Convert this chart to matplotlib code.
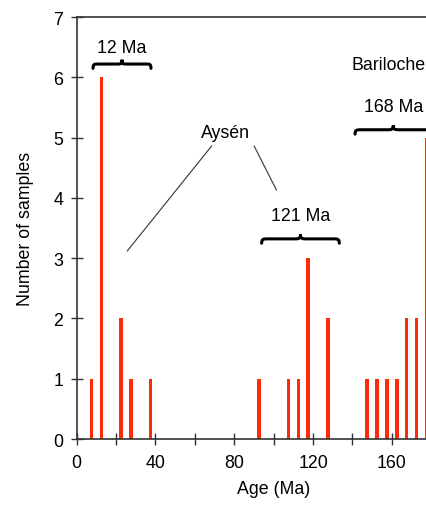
import matplotlib.pyplot as plt
from matplotlib.path import Path
from matplotlib.patches import PathPatch

plt.rcParams['font.family'] = ['Liberation Sans', 'DejaVu Sans']

# %% Data: histogram of ages, 5 Ma bins (bin centres)
ages = [7.5, 12.5, 22.5, 27.5, 37.5, 92.5, 107.5, 112.5, 117.5, 127.5,
        147.5, 152.5, 157.5, 162.5, 167.5, 172.5, 177.5]
counts = [1, 6, 2, 1, 1, 1, 1, 1, 3, 2,
          1, 1, 1, 1, 2, 2, 5]

x_ticks = [0, 20, 40, 60, 80, 100, 120, 140, 160, 180]
x_labels = ['0', '', '40', '', '80', '', '120', '', '160', '']
y_ticks = [0, 1, 2, 3, 4, 5, 6, 7]

FS = 12.8


def brace(ax, x0, x1, y, h):
    # horizontal curly brace, ends curl down, peak in the middle
    xc = (x0 + x1) / 2
    w = (x1 - x0)
    q = w * 0.08
    verts = [(x0, y - h * 0.6),
             (x0, y), (x0 + q * 0.3, y), (x0 + q, y),
             (xc - q, y),
             (xc - q * 0.3, y), (xc, y), (xc, y + h * 0.6),
             (xc, y), (xc + q * 0.3, y), (xc + q, y),
             (x1 - q, y),
             (x1 - q * 0.3, y), (x1, y), (x1, y - h * 0.6)]
    codes = [Path.MOVETO,
             Path.CURVE4, Path.CURVE4, Path.CURVE4,
             Path.LINETO,
             Path.CURVE4, Path.CURVE4, Path.CURVE4,
             Path.CURVE4, Path.CURVE4, Path.CURVE4,
             Path.LINETO,
             Path.CURVE4, Path.CURVE4, Path.CURVE4]
    ax.add_patch(PathPatch(Path(verts, codes), fill=False, lw=2.2,
                           color='black', clip_on=False, capstyle='round'))


# %% Plot
fig = plt.figure(figsize=(4.27, 5.06), dpi=100)
ax = fig.add_axes([0.1796, 0.1304, 0.9227, 0.834])

ax.bar(ages, counts, width=1.8, color='#ff2a0a', zorder=2)

ax.set_xlim(0, 200)
ax.set_ylim(0, 7)
ax.set_xticks(x_ticks)
ax.set_xticklabels(x_labels)
ax.set_yticks(y_ticks)
ax.tick_params(direction='inout', length=9, width=1, labelsize=FS,
               color='#333333', labelcolor='black')
ax.tick_params(axis='x', pad=6)
ax.tick_params(axis='y', pad=5)
for s in ax.spines.values():
    s.set_color('#333333')
    s.set_linewidth(1.2)

ax.set_xlabel('Age (Ma)', fontsize=FS, labelpad=7)
ax.set_ylabel('Number of samples', fontsize=FS, labelpad=14)

# annotations
ax.text(22.8, 6.5, '12 Ma', ha='center', va='center', fontsize=FS)
brace(ax, 8.3, 37.7, 6.22, 0.12)

ax.text(75.3, 5.09, 'Aysén', ha='center', va='center', fontsize=FS)
ax.plot([68.5, 25.7], [4.86, 3.12], color='#333333', lw=0.8)
ax.plot([90.1, 101.4], [4.86, 4.13], color='#333333', lw=0.8)

ax.text(113.7, 3.71, '121 Ma', ha='center', va='center', fontsize=FS)
brace(ax, 93.9, 133.3, 3.32, 0.12)

ax.text(139.6, 6.22, 'Bariloche', ha='left', va='center', fontsize=FS)
ax.text(160.7, 5.52, '168 Ma', ha='center', va='center', fontsize=FS)
brace(ax, 141.3, 180.1, 5.13, 0.12)

plt.savefig('out.png', dpi=100)
